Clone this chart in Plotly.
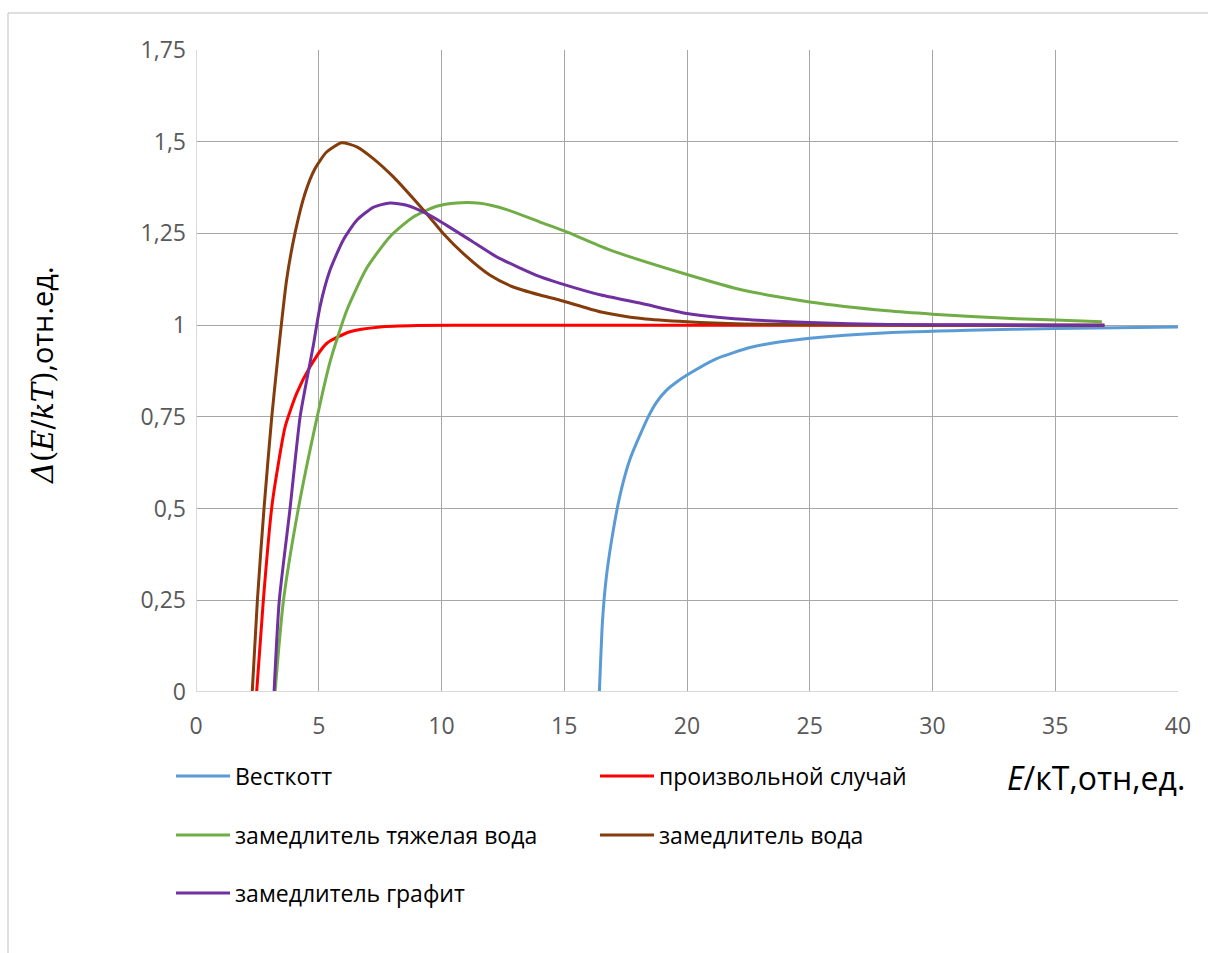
import plotly.graph_objects as go

# ---- data ----
west_x = [16.43, 16.56, 16.70, 16.93, 17.27, 17.68, 18.42, 18.77, 19.17, 19.58, 20.0, 21.21, 22.57, 23.38,
          25.0, 28.16, 31.5, 35.0, 40.0]
west_y = [0, 0.196, 0.305, 0.414, 0.536, 0.635, 0.75, 0.791, 0.823, 0.845, 0.864, 0.909, 0.939, 0.95,
          0.964, 0.979, 0.986, 0.991, 0.995]

red_x = [2.47, 2.74, 3.08, 3.29, 3.63, 4.10, 4.64, 5.32, 6.27, 7.5, 9, 12, 15, 20, 25, 30, 37]
red_y = [0, 0.248, 0.5, 0.596, 0.723, 0.814, 0.886, 0.95, 0.982, 0.995, 0.999, 1.0, 1.0, 1.0, 1.0, 1.0, 1.0]

heavy_x = [3.22, 3.56, 4.17, 4.92, 5.46, 6.14, 6.95, 7.90, 8.85, 9.80, 10.62, 11.57, 12.66, 14.01,
           15.0, 16.82, 20.0, 22.3, 25.0, 28.16, 30.0, 33.2, 35.0, 36.9]
heavy_y = [0, 0.248, 0.5, 0.745, 0.9, 1.04, 1.155, 1.241, 1.295, 1.324, 1.333, 1.332, 1.315, 1.281,
           1.257, 1.206, 1.138, 1.095, 1.063, 1.039, 1.03, 1.018, 1.014, 1.009]

water_x = [2.29, 2.50, 2.77, 3.08, 3.35, 3.69, 4.03, 4.44, 4.85, 5.32, 5.93, 6.55, 7.22, 8.04, 8.85, 9.67,
           10.07, 10.89, 11.98, 12.92, 14.01, 14.83, 16.5, 18.16, 20.0, 22.3, 25, 30, 37]
water_y = [0, 0.25, 0.5, 0.745, 0.923, 1.123, 1.25, 1.359, 1.427, 1.472, 1.497, 1.486, 1.454, 1.404, 1.345,
           1.282, 1.25, 1.195, 1.136, 1.104, 1.082, 1.068, 1.036, 1.018, 1.009, 1.003, 1.001, 1.0, 1.0]

graph_x = [3.18, 3.39, 3.83, 4.24, 4.51, 4.78, 5.05, 5.46, 6.0, 6.55, 7.22, 7.90, 8.58, 9.40, 10.21, 11.16,
           12.25, 14.01, 14.83, 16.5, 18.16, 20.0, 22.3, 25.0, 28.2, 32, 37]
graph_y = [0, 0.248, 0.5, 0.75, 0.85, 0.945, 1.05, 1.15, 1.232, 1.286, 1.321, 1.333, 1.327, 1.304, 1.272,
           1.232, 1.186, 1.132, 1.114, 1.082, 1.059, 1.032, 1.016, 1.007, 1.002, 1.001, 1.0]

y_ticks = [0, 0.25, 0.5, 0.75, 1, 1.25, 1.5, 1.75]
y_tick_labels = ["0", "0,25", "0,5", "0,75", "1", "1,25", "1,5", "1,75"]
x_ticks = [0, 5, 10, 15, 20, 25, 30, 35, 40]

FONT = "Open Sans, sans-serif"
TICK_COLOR = "#595959"

fig = go.Figure()
series = [
    ("Весткотт", west_x, west_y, "#5B9BD5", "legend"),
    ("произвольной случай", red_x, red_y, "#FF0000", "legend"),
    ("замедлитель тяжелая вода", heavy_x, heavy_y, "#70AD47", "legend2"),
    ("замедлитель вода", water_x, water_y, "#843C0C", "legend2"),
    ("замедлитель графит", graph_x, graph_y, "#7030A0", "legend3"),
]
for name, xs, ys, col, lg in series:
    fig.add_trace(go.Scatter(x=xs, y=ys, name=name, mode="lines",
                             line=dict(color=col, width=3, shape="spline", smoothing=0.6),
                             legend=lg))

W, H = 1208, 953
L, R, T, B = 196, 1178, 50, 692
pw, ph = R - L, B - T

def px(xp):
    return (xp - L) / pw

def py(yp):
    return (B - yp) / ph

leg_common = dict(orientation="h", xanchor="left", yanchor="middle",
                  font=dict(family=FONT, size=23, color="#000000"),
                  entrywidth=355, entrywidthmode="pixels", bgcolor="rgba(0,0,0,0)",
                  itemwidth=54, traceorder="normal")

fig.update_layout(
    width=W, height=H,
    margin=dict(l=L, r=W - R, t=T, b=H - B),
    paper_bgcolor="white", plot_bgcolor="white",
    font=dict(family=FONT, size=22, color=TICK_COLOR),
    xaxis=dict(range=[0, 40], tickvals=x_ticks, showgrid=True, gridcolor="#A6A6A6", gridwidth=1,
               zeroline=False, showline=False, ticks="", tickfont=dict(family=FONT, size=23, color=TICK_COLOR),
               ticklabelstandoff=18),
    yaxis=dict(range=[0, 1.75], tickvals=y_ticks, ticktext=y_tick_labels, showgrid=True,
               gridcolor="#A6A6A6", gridwidth=1, zeroline=False, showline=False, ticks="",
               tickfont=dict(family=FONT, size=23, color=TICK_COLOR), ticklabelstandoff=9),
    legend=dict(x=px(171), y=py(776), **leg_common),
    legend2=dict(x=px(171), y=py(835), **leg_common),
    legend3=dict(x=px(171), y=py(893), **leg_common),
    showlegend=True,
)

# axis lines (light gray) on left and bottom
fig.add_shape(type="line", xref="x", yref="y", x0=0, x1=0, y0=0, y1=1.75,
              line=dict(color="#D9D9D9", width=2))
fig.add_shape(type="line", xref="x", yref="y", x0=0, x1=40, y0=0, y1=0,
              line=dict(color="#D9D9D9", width=2))

# outer chart border
fig.add_shape(type="rect", xref="paper", yref="paper",
              x0=px(8), x1=px(1215), y0=py(960), y1=py(13),
              line=dict(color="#BFBFBF", width=1), fillcolor="rgba(0,0,0,0)", layer="below")

# axis titles
fig.add_annotation(xref="paper", yref="paper", x=px(1187), y=py(777), xanchor="right", yanchor="middle",
                   text="<i>E</i>/кТ,отн,ед.", showarrow=False,
                   font=dict(family=FONT, size=32, color="#000000"))
fig.add_annotation(xref="paper", yref="paper", x=px(41), y=py(375), xanchor="center", yanchor="middle",
                   text="<i>Δ</i>(<i>E</i>/<i>kT</i>)<span style='font-family:Open Sans'>,отн.ед.</span>",
                   textangle=-90, showarrow=False,
                   font=dict(family="DejaVu Serif", size=29, color="#000000"))

fig.write_html("out.html")
